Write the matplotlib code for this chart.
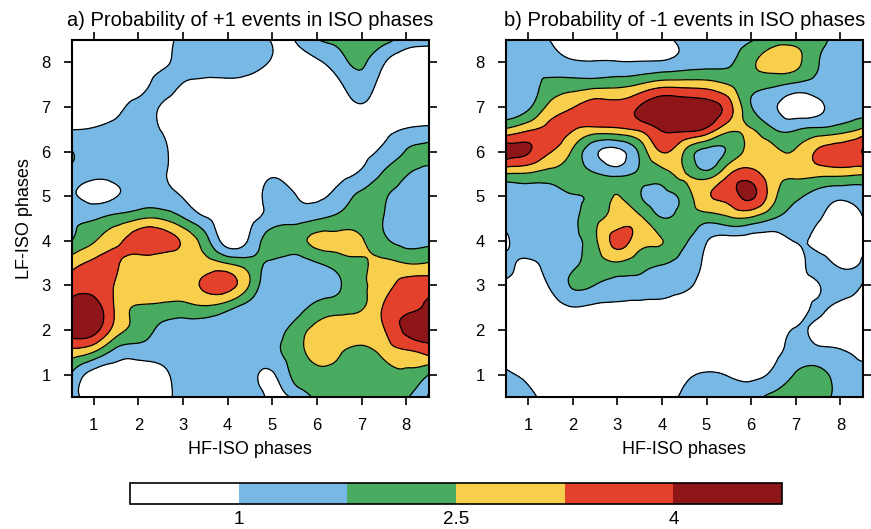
import numpy as np
import matplotlib
matplotlib.use("Agg")
import matplotlib.pyplot as plt
import matplotlib.tri as mtri
from matplotlib.colors import ListedColormap

plt.rcParams['font.family'] = ['Liberation Sans', 'DejaVu Sans']

# Phase grid (HF-ISO on x, LF-ISO on y), half-phase spacing
hf_phase = np.arange(0.5, 8.51, 0.5)
lf_phase = np.arange(8.5, 0.49, -0.5)   # rows below run from top (8.5) to bottom (0.5)

# a) probability of +1 events, one row per LF phase (8.5 -> 0.5)
prob_pos = [
    [0.55,0.55,0.55,0.62,0.72,1.22,1.38,1.38,1.26,0.96,1.004,1.71,1.98,2.12,2.05,1.38,1.22],
    [0.48,0.48,0.48,0.55,0.80,1.30,1.45,1.45,1.30,0.92,0.70,0.89,1.45,1.86,1.06,0.62,0.62],
    [0.48,0.48,0.55,0.70,1.22,0.96,0.78,0.78,0.70,0.48,0.48,0.55,0.89,1.38,0.70,0.55,0.62],
    [0.62,0.62,0.78,1.22,0.96,0.62,0.48,0.40,0.40,0.40,0.40,0.48,0.62,0.92,0.62,0.55,0.62],
    [0.98,1.04,1.22,1.30,0.985,0.70,0.48,0.40,0.40,0.40,0.40,0.40,0.48,0.62,0.78,1.04,1.15],
    [1.79,1.38,1.38,1.38,1.15,0.70,0.48,0.40,0.40,0.40,0.40,0.48,0.62,0.78,1.19,1.79,1.98],
    [1.45,1.19,1.22,1.30,1.15,0.62,0.48,0.40,0.48,0.89,0.55,0.55,0.78,1.15,1.82,1.79,1.52],
    [1.08,0.78,0.98,1.22,1.22,0.96,0.48,0.48,0.70,1.22,1.04,0.89,1.30,1.90,1.82,1.45,1.38],
    [1.60,1.68,2.05,2.42,2.46,1.82,1.08,0.62,0.85,1.30,1.45,1.68,1.98,2.05,1.74,1.38,1.45],
    [1.73,2.42,3.10,3.62,3.62,3.14,2.05,0.62,1.15,2.20,2.28,2.69,2.72,2.58,1.90,1.52,1.60],
    [2.95,3.40,3.36,2.95,2.88,2.88,2.80,2.46,2.05,1.60,1.38,1.71,2.12,2.42,2.65,2.485,2.54],
    [3.62,3.70,3.18,2.95,2.88,2.95,3.40,3.55,2.42,1.15,1.38,1.38,1.68,2.35,2.95,3.55,3.70],
    [4.38,4.38,3.10,2.42,2.28,2.20,2.35,1.98,1.38,1.22,1.45,1.98,2.20,2.42,3.32,3.85,4.15],
    [4.45,4.30,2.88,2.20,1.60,1.45,1.38,1.30,1.30,1.38,2.05,2.72,2.88,2.95,3.21,4.15,4.30],
    [2.95,2.46,1.45,1.30,1.22,1.22,1.30,1.38,1.45,1.52,2.20,2.72,2.58,2.20,2.72,3.10,3.48],
    [1.68,0.70,0.70,0.70,0.85,1.22,1.30,1.30,1.22,0.92,1.98,2.35,2.35,2.05,2.12,2.35,1.76],
    [1.22,0.70,0.62,0.62,0.78,1.22,1.38,1.38,1.38,0.85,1.15,1.90,2.05,2.05,1.98,1.82,0.92],
]

# b) probability of -1 events, one row per LF phase (8.5 -> 0.5)
prob_neg = [
    [1.38,1.45,0.985,0.62,0.55,0.55,0.62,0.78,1.22,1.45,1.52,1.68,2.20,2.20,1.98,1.45,1.38],
    [1.22,1.71,1.38,1.08,1.04,1.04,1.04,1.08,1.30,1.45,1.64,2.35,2.80,2.72,1.79,1.38,1.30],
    [1.38,1.45,1.98,2.12,2.20,2.28,2.54,2.95,2.95,2.88,2.49,2.12,1.90,1.60,1.45,1.38,1.38],
    [1.22,1.60,2.72,3.21,3.70,3.62,4.04,4.60,4.60,4.45,3.55,1.79,1.08,0.60,0.85,1.30,1.38],
    [2.58,3.10,3.48,3.32,3.02,3.10,3.40,4.08,4.22,3.85,2.72,2.54,1.79,1.68,1.90,2.12,2.61],
    [4.38,4.08,3.29,2.39,1.15,0.78,1.90,3.29,2.48,1.45,1.90,2.80,2.72,2.58,3.36,3.70,4.04],
    [2.485,2.42,2.20,2.05,1.80,1.55,1.85,2.20,2.55,2.05,3.18,3.55,2.80,2.65,2.72,2.72,2.58],
    [1.22,1.38,1.45,1.71,1.98,2.52,1.82,1.45,2.05,3.14,3.55,4.15,2.72,1.90,1.45,1.15,1.30],
    [1.38,1.38,1.45,1.60,2.28,2.80,2.68,1.79,2.05,2.05,2.35,2.35,1.76,1.45,1.08,0.70,0.99],
    [0.78,1.45,1.38,1.52,2.35,3.48,2.85,2.52,1.90,1.04,0.70,0.62,0.62,1.04,0.78,0.55,0.85],
    [1.30,0.89,1.22,1.60,2.12,2.42,2.05,1.82,1.45,0.85,0.55,0.48,0.55,0.70,1.22,0.85,1.08],
    [0.78,0.62,1.08,1.82,1.735,1.45,1.45,1.30,1.15,0.70,0.55,0.48,0.48,0.62,0.96,1.30,0.96],
    [0.55,0.48,0.62,0.96,0.85,0.85,0.78,0.78,0.62,0.55,0.48,0.48,0.55,0.70,1.08,0.78,0.62],
    [0.62,0.55,0.48,0.48,0.48,0.48,0.48,0.48,0.48,0.48,0.48,0.55,0.70,1.04,0.85,0.62,0.70],
    [0.62,0.55,0.48,0.48,0.48,0.48,0.48,0.48,0.48,0.48,0.55,0.62,0.85,1.22,1.22,1.08,0.85],
    [1.15,0.85,0.62,0.55,0.55,0.55,0.55,0.62,0.85,1.08,0.96,0.85,1.15,1.82,1.98,1.45,1.22],
    [1.38,1.15,0.78,0.62,0.62,0.62,0.70,0.85,1.08,1.38,1.30,1.45,1.98,2.12,2.05,1.52,1.38],
]

titles = ["a) Probability of +1 events in ISO phases",
          "b) Probability of -1 events in ISO phases"]
phase_ticks = [1, 2, 3, 4, 5, 6, 7, 8]
cbar_ticks = [1, 2.5, 4]

levels = [0.25, 1.0, 1.75, 2.5, 3.25, 4.0, 4.75]
line_levels = levels[1:-1]
fill_colors = ["#ffffff", "#78b8e4", "#48ab60", "#f7cf4c", "#e3412b", "#8e1518"]
cmap = ListedColormap(fill_colors)

fig = plt.figure(figsize=(8.71, 5.29), dpi=100)
W, H = 871.0, 529.0
axes_px = [(71.5, 40, 357, 357), (505.7, 40, 357, 357)]

# regular triangulation of the phase grid (two triangles per cell),
# refined by matplotlib for smooth contour lines
nx, ny = len(hf_phase), len(lf_phase)
gx, gy = np.meshgrid(hf_phase, lf_phase)
triangles = []
for i in range(ny - 1):
    for j in range(nx - 1):
        k = i * nx + j
        if (i + j) % 2 == 0:
            triangles.append([k, k + 1, k + nx + 1])
            triangles.append([k, k + nx + 1, k + nx])
        else:
            triangles.append([k, k + 1, k + nx])
            triangles.append([k + 1, k + nx + 1, k + nx])
tri = mtri.Triangulation(gx.ravel(), gy.ravel(), np.array(triangles))
refiner = mtri.UniformTriRefiner(tri)

cs = None
for (x0, y0, w, h), field, title in zip(axes_px, [prob_pos, prob_neg], titles):
    ax = fig.add_axes([x0 / W, 1 - (y0 + h) / H, w / W, h / H])
    z = np.array(field, dtype=float).ravel()
    interp = mtri.CubicTriInterpolator(tri, z, kind="min_E")
    tri_f, z_f = refiner.refine_field(z, triinterpolator=interp, subdiv=3)
    z_f = np.clip(z_f, levels[0] + 0.01, levels[-1] - 0.01)
    cs = ax.tricontourf(tri_f, z_f, levels=levels, cmap=cmap)
    ax.tricontour(tri_f, z_f, levels=line_levels, colors="black",
                  linewidths=0.9)
    ax.set_xlim(0.5, 8.5)
    ax.set_ylim(0.5, 8.5)
    ax.set_xticks(phase_ticks)
    ax.set_yticks(phase_ticks)
    ax.tick_params(direction="out", length=6, width=1.2, top=True, right=True,
                   labeltop=False, labelright=False, labelsize=12, pad=9)
    for sp in ax.spines.values():
        sp.set_linewidth(1.5)
    ax.set_title(title, fontsize=14.5, pad=10)
    ax.set_xlabel("HF-ISO phases", fontsize=13, labelpad=6)
    if x0 < 100:
        ax.set_ylabel("LF-ISO phases", fontsize=13, labelpad=6)

cax = fig.add_axes([130 / W, 1 - 504 / H, 652 / W, 21 / H])
cb = fig.colorbar(cs, cax=cax, orientation="horizontal", ticks=cbar_ticks)
cb.ax.tick_params(length=0, labelsize=13.5, pad=5)
cb.ax.set_xticklabels(["1", "2.5", "4"])
cb.outline.set_linewidth(1.2)

fig.savefig("out.png", dpi=100)
